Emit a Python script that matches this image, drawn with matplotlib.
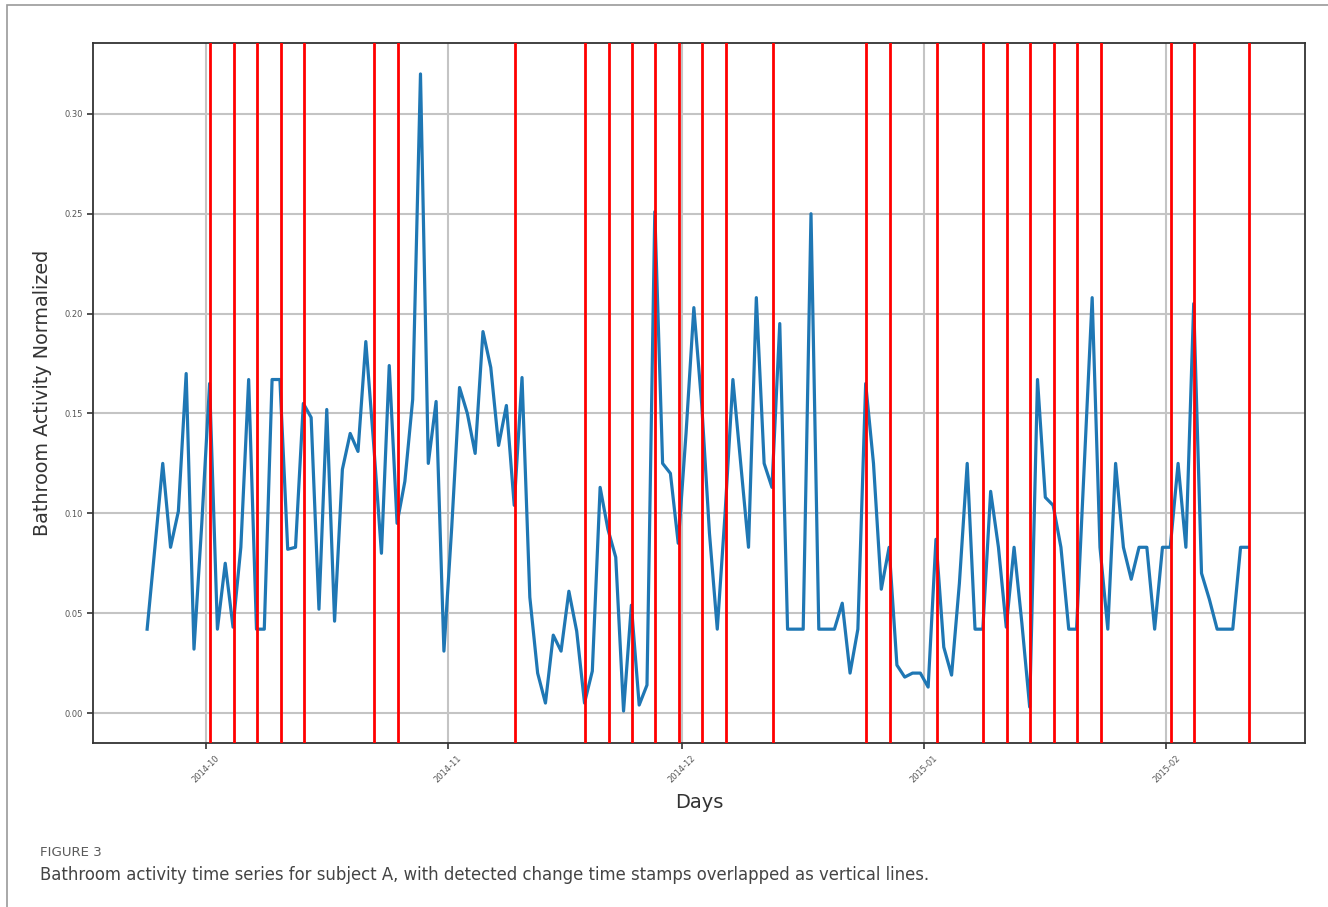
import matplotlib
matplotlib.use("Agg")
import matplotlib.pyplot as plt
import matplotlib.dates as mdates
from matplotlib.patches import Rectangle
import numpy as np
import pandas as pd

# daily normalized bathroom activity, first day 2014-09-23
activity = [
    0.042, 0.083, 0.125, 0.083, 0.101, 0.170, 0.032, 0.095,
    0.165, 0.042, 0.075, 0.043, 0.083, 0.167, 0.042, 0.042, 0.167, 0.167,
    0.082, 0.083, 0.155, 0.148, 0.052, 0.152, 0.046, 0.122, 0.140, 0.131,
    0.186, 0.135, 0.080, 0.174, 0.095, 0.116, 0.157, 0.320, 0.125, 0.156,
    0.031, 0.093, 0.163, 0.150, 0.130, 0.191, 0.173, 0.134, 0.154, 0.104,
    0.168, 0.058, 0.020, 0.005, 0.039, 0.031, 0.061, 0.041, 0.005, 0.021,
    0.113, 0.092, 0.078, 0.001, 0.054, 0.004, 0.014, 0.251, 0.125, 0.120,
    0.085, 0.140, 0.203, 0.155, 0.090, 0.042, 0.100, 0.167, 0.125, 0.083,
    0.208, 0.125, 0.113, 0.195, 0.042, 0.042, 0.042, 0.250, 0.042, 0.042,
    0.042, 0.055, 0.020, 0.042, 0.165, 0.125, 0.062, 0.083, 0.024, 0.018,
    0.020, 0.020, 0.013, 0.087, 0.033, 0.019, 0.065, 0.125, 0.042, 0.042,
    0.111, 0.083, 0.043, 0.083, 0.045, 0.003, 0.167, 0.108, 0.104, 0.083,
    0.042, 0.042, 0.125, 0.208, 0.083, 0.042, 0.125, 0.083, 0.067, 0.083,
    0.083, 0.042, 0.083, 0.083, 0.125, 0.083, 0.205, 0.070, 0.057, 0.042,
    0.042, 0.042, 0.083, 0.083,
]
start_day = "2014-09-23 12:00"

# detected change time stamps
change_dates = [
    "2014-10-01", "2014-10-04", "2014-10-07", "2014-10-10", "2014-10-13",
    "2014-10-22", "2014-10-25", "2014-11-09", "2014-11-18", "2014-11-21",
    "2014-11-24", "2014-11-27", "2014-11-30", "2014-12-03", "2014-12-06",
    "2014-12-12", "2014-12-24", "2014-12-27", "2015-01-02", "2015-01-08",
    "2015-01-11", "2015-01-14", "2015-01-17", "2015-01-20", "2015-01-23",
    "2015-02-01", "2015-02-04", "2015-02-11",
]

yticks = [0.00, 0.05, 0.10, 0.15, 0.20, 0.25, 0.30]

days = pd.date_range(start_day, periods=len(activity), freq="D")
changes = pd.to_datetime(change_dates) + pd.Timedelta(hours=14)

W, H = 1328, 907
fig = plt.figure(figsize=(W / 100, H / 100), dpi=100)
fig.patch.set_facecolor("white")

# page frame
fig.patches.append(Rectangle((7 / W, -0.05), 1.2, 1 - 5 / H + 0.05,
                             transform=fig.transFigure, fill=False,
                             edgecolor="#9a9a9a", linewidth=1.2))

ax = fig.add_axes([93 / W, 1 - 743 / H, (1305 - 93) / W, (743 - 43) / H])

ax.plot(days, activity, color="#1f77b4", linewidth=2.3, zorder=3)
for c in changes:
    ax.axvline(c, color="red", linewidth=2.0, zorder=4)

x0 = pd.Timestamp("2014-10-01")
ax.set_xlim(x0 - pd.Timedelta(days=14.43), x0 + pd.Timedelta(days=140.75))
ax.set_ylim(-0.015, 0.3355)

ax.xaxis.set_major_locator(mdates.MonthLocator())
ax.xaxis.set_major_formatter(mdates.DateFormatter("%Y-%m"))
ax.set_yticks(yticks)
ax.set_yticklabels(["%.2f" % v for v in yticks])

ax.grid(True, color="#c4c4c4", linewidth=1.5, zorder=0)
ax.tick_params(axis="both", labelsize=6, labelcolor="#555555", color="#333333",
               length=4, width=1.2)
plt.setp(ax.get_xticklabels(), rotation=45)
for s in ax.spines.values():
    s.set_linewidth(1.3)
    s.set_color("#333333")

ax.set_xlabel("Days", fontsize=14, color="#333333", labelpad=6)
ax.set_ylabel("Bathroom Activity Normalized", fontsize=13.8, color="#333333", labelpad=9)

fig.text(40 / W, 1 - 852 / H, "FIGURE 3", fontsize=9.6, color="#5a5a5a", va="center")
fig.text(40 / W, 1 - 875 / H,
         "Bathroom activity time series for subject A, with detected change time stamps overlapped as vertical lines.",
         fontsize=11.9, color="#444444", va="center")

fig.savefig("out.png", dpi=100)
